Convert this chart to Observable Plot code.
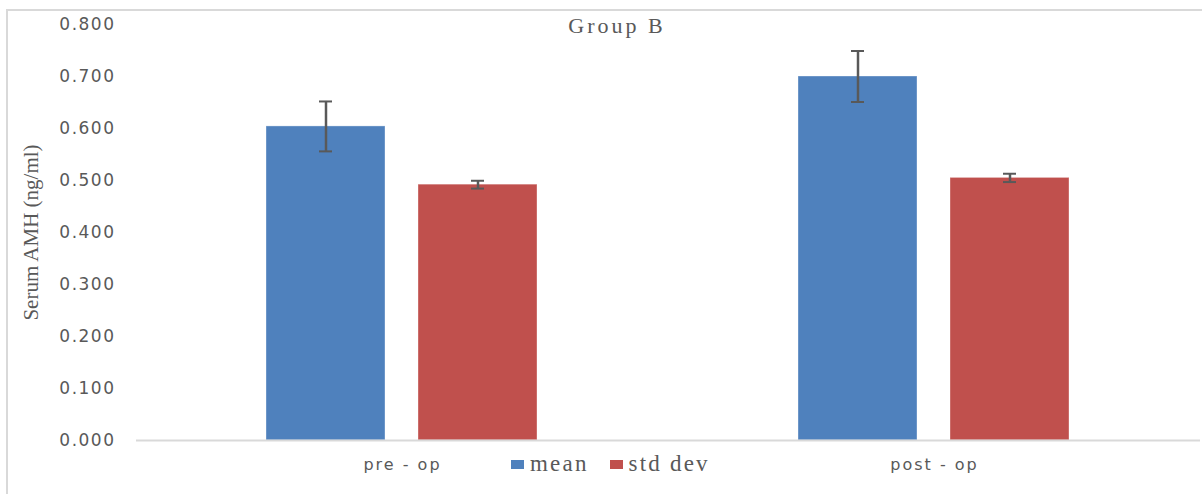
<!DOCTYPE html>
<html>
<head>
<meta charset="utf-8">
<script src="https://cdn.jsdelivr.net/npm/d3@7"></script>
<script src="https://cdn.jsdelivr.net/npm/@observablehq/plot@0.6"></script>
<style>
  html, body { margin: 0; padding: 0; background: #fff; }
  #wrap { position: relative; width: 1202px; height: 494px; overflow: hidden; background: #fff; }
  #frame { position: absolute; left: 6px; top: 9px; width: 1300px; height: 600px;
           border-left: 2px solid #d9d9d9; border-top: 2px solid #d9d9d9; }
  #title { position: absolute; left: 0; width: 1234px; top: 15px; text-align: center;
           font-family: "Liberation Serif", serif; font-size: 22px; line-height: 22px;
           letter-spacing: 3px; color: #595959; }
  #legend { position: absolute; left: 511px; top: 452px; font-family: "Liberation Serif", serif;
            font-size: 23px; line-height: 24px; letter-spacing: 2.2px; color: #595959; white-space: nowrap; }
  #legend .item { display: inline-block; margin-right: 21px; }
  #legend .sw { display: inline-block; width: 13px; height: 9px; margin-right: 6px; vertical-align: 2px; }
  svg { position: absolute; left: 0; top: 0; }
  svg [aria-label="y-axis label"] text, svg [aria-label="y-axis label"] {
    font-family: "Liberation Serif", serif; font-size: 21px; letter-spacing: 0px;
  }
  svg [aria-label="y-axis tick label"] text, svg [aria-label="y-axis tick label"] {
    font-size: 17px; letter-spacing: 1.5px;
  }
</style>
</head>
<body>
<div id="wrap">
  <div id="frame"></div>
</div>
<script>
// ---- data ----
const categories = ["pre - op", "post - op"];
const series = ["mean", "std dev"];
const meanValues = [0.604, 0.700];
const meanErrors = [0.048, 0.049];
const sdValues = [0.492, 0.505];
const sdErrors = [0.0075, 0.008];
const yTicks = [0, 0.1, 0.2, 0.3, 0.4, 0.5, 0.6, 0.7, 0.8];
const colors = ["#4F81BD", "#C0504D"];
const chartTitle = "Group B";
const yLabel = "Serum AMH (ng/ml)";

const rows = [];
categories.forEach((c, i) => {
  rows.push({category: c, series: series[0], value: meanValues[i], err: meanErrors[i]});
  rows.push({category: c, series: series[1], value: sdValues[i], err: sdErrors[i]});
});
const lo = d => d.value - d.err;
const hi = d => d.value + d.err;

const plot = Plot.plot({
  width: 1202,
  height: 494,
  marginLeft: 136,
  marginRight: 2,
  marginTop: 24,
  marginBottom: 54,
  style: {fontFamily: "DejaVu Sans", fontSize: "16px", color: "#595959", background: "transparent", letterSpacing: "2px", overflow: "visible"},
  fx: {domain: categories, padding: 0, label: null, axis: "bottom", tickSize: 0, tickPadding: 18},
  x: {domain: series, paddingInner: 0.217, paddingOuter: 0.8585, axis: null},
  y: {domain: [0, 0.8], ticks: yTicks, tickFormat: d3.format(".3f"), tickSize: 0, tickPadding: 21,
      label: yLabel, labelArrow: "none", labelAnchor: "center", labelOffset: 113},
  color: {domain: series, range: colors},
  marks: [
    Plot.barY(rows, {fx: "category", x: "series", y: "value", fill: "series", stroke: "#ffffff", strokeOpacity: 0.35, strokeWidth: 1}),
    Plot.ruleY([0], {stroke: "#d9d9d9", strokeWidth: 2}),
    Plot.ruleX(rows, {fx: "category", x: "series", y1: lo, y2: hi, stroke: "#595959", strokeWidth: 2.5}),
    Plot.tickY(rows, {fx: "category", x: "series", y: lo, insetLeft: 53, insetRight: 53, stroke: "#595959", strokeWidth: 2}),
    Plot.tickY(rows, {fx: "category", x: "series", y: hi, insetLeft: 53, insetRight: 53, stroke: "#595959", strokeWidth: 2})
  ]
});

const wrap = document.getElementById("wrap");
wrap.appendChild(plot);

const title = document.createElement("div");
title.id = "title";
title.textContent = chartTitle;
wrap.appendChild(title);

const legend = document.createElement("div");
legend.id = "legend";
series.forEach((s, i) => {
  const item = document.createElement("span");
  item.className = "item";
  const sw = document.createElement("span");
  sw.className = "sw";
  sw.style.background = colors[i];
  item.appendChild(sw);
  item.appendChild(document.createTextNode(s));
  legend.appendChild(item);
});
wrap.appendChild(legend);
</script>
</body>
</html>
